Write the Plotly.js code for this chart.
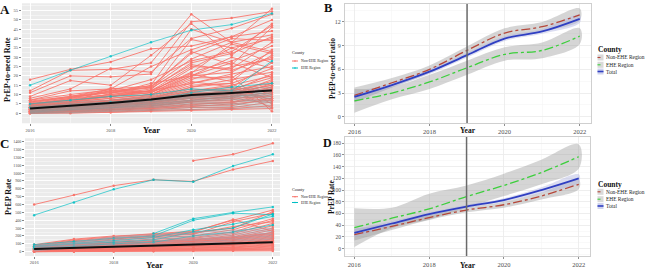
<!DOCTYPE html>
<html><head><meta charset="utf-8">
<script src="https://cdn.plot.ly/plotly-3.0.1.min.js"></script>
<style>html,body{margin:0;padding:0;background:#fff}#chart{width:647px;height:269px}</style>
</head><body><div id="chart"></div>
<script>
const years = [2016, 2017, 2018, 2019, 2020, 2021, 2022];
const legendLabels = ["Non-EHE Region", "EHE Region", "Total"];

// Panel A: county PrEP-to-need rates
const aNonEhe = [
  [18, 23.5, 27.5, 34.5, 36, 41, 44],
  [12, 23, 23.5, 27, 53, 38, 56],
  [11, 20, 19.5, 21, 49, 51, 54.5],
  [9, 17.5, 15, 31, 48, 31, 48],
  [8, 13, 24, 22, 40, 45.5, 53],
  [7, 12, 13, 25, 34, 41, 50],
  [6, 9, 12, 14, 33, 26, 46],
  [5.5, 8.5, 11, 14, 29, 38, 42],
  [5, 8, 10, 13, 27, 32, 41],
  [5, 7.5, 10, 12, 25, 24, 38],
  [4.5, 7, 9.5, 12, 22, 28, 36],
  [4.5, 7, 9, 11, 21, 17, 34],
  [4, 6.5, 9, 11, 20, 22, 33],
  [4, 6, 8, 10, 19, 19, 31],
  [3.5, 6, 8, 10, 18, 25, 29],
  [3.5, 5.5, 7, 9.5, 17, 14, 27],
  [3, 5.5, 7, 9, 16, 21, 25],
  [3, 5, 6.5, 8.5, 15, 16, 24],
  [3, 5, 6.5, 8, 14, 18, 22],
  [2.5, 4.5, 6, 8, 13, 12, 21],
  [2.5, 4.5, 6, 7.5, 12, 15, 20],
  [2.5, 4, 5.5, 7, 11.5, 13, 19],
  [2, 4, 5, 7, 11, 10, 18],
  [2, 3.5, 5, 6.5, 10, 12, 17],
  [2, 3.5, 4.5, 6, 9.5, 9, 16],
  [1.5, 3, 4.5, 5.5, 9, 11, 15],
  [1.5, 3, 4, 5, 8, 8, 14],
  [1.5, 2.5, 3.5, 4.5, 7, 9, 13],
  [1, 2, 3, 4, 6.5, 7, 12],
  [1, 2, 2.5, 3.5, 6, 6, 11],
  [0.5, 1.5, 2, 3, 5, 5.5, 10],
  [0.5, 1, 1.5, 2.5, 4, 4, 8],
  [0, 1, 1, 2, 3, 3, 6],
  [0, 0.5, 0.5, 1.5, 2, 2.5, 4],
  [0, 0, 0.5, 1, 1.5, 2, 2.5],
  [7, 10, 12.5, 10, 20, 30, 24],
  [6, 8.5, 11.5, 13.5, 26, 23, 30],
  [null, 9, 13, 14.5, 32, 40, 39],
  [null, null, 11, 12, 21.5, 37, 32],
  [4, 5.5, 13.5, 11, 24, 35, 27],
  [3, 6, 10.5, 16, 20, 27, 19],
  [2, 4, 7, 8, 14, 16, 5],
  [1, 3, 4, 6, 10, 12, 3],
  [5, 7, 9, 12, 16, 20, 1],
  [2, 3.5, 5, 8, 12, 14, 7],
  [6.5, 9, 11, 15, 45, 38, 33],
  [3, 6, 9, 12, 39.5, 35, 40],
  [4, 8, 12, 18, 28, 33, 47],
  [3, 4, 5, 6, 8, 10, 13],
  [2, 3, 4, 5, 7, 9, 11],
  [1, 2, 3, 4, 6, 8, 9],
  [4, 5, 6, 7, 9, 11, 15],
  [2.5, 3.5, 4.5, 5.5, 8.5, 10, 14],
  [1, 1.5, 2, 3, 4.5, 6, 8],
  [0.5, 1, 2, 2.5, 3.5, 5, 7],
  [3.5, 4.5, 6, 7, 10.5, 12, 16]
];
const aEhe = [
  [15, 23, 30.5, 38, 44.5, 47.5, 53.5],
  [5, 7, 9, 10, 13, 12, 28],
  [3, 4, 6, 7, 11, 14, 16]
];
const aGrey = [
  [5, 6, 7, 9, 12, 13, 14],
  [4, 5, 6, 8, 10, 12, 13],
  [3.5, 4.5, 5.5, 7, 9, 10, 12],
  [3, 4, 5, 6.5, 8.5, 9, 11],
  [2.5, 3.5, 4.5, 6, 8, 8.5, 10],
  [2, 3, 4, 5, 7, 8, 9],
  [1.5, 2.5, 3.5, 4.5, 6, 7, 8],
  [1, 2, 3, 4, 5.5, 6, 7],
  [0.5, 1.5, 2.5, 3.5, 5, 5, 6],
  [0.2, 1, 2, 3, 4, 4.5, 5],
  [0, 0.5, 1.5, 2, 3, 3.5, 4],
  [0, 0.2, 1, 1.5, 2, 2.5, 3],
  [1, 2.5, 4, 5.5, 8, 11, 12.5],
  [2, 3.5, 5, 7, 9.5, 10.5, 8],
  [0.5, 2, 3, 5, 7, 9, 11],
  [3, 5, 6, 8, 11, 12, 10],
  [1.5, 3, 4.5, 6, 9, 9.5, 9.5],
  [0.8, 1.8, 2.8, 4, 6.5, 7.5, 6]
];
const aMean = [2.5, 3.9, 5.5, 7.3, 9.8, 10.8, 12.2];

// Panel B: smoothed PrEP-to-need ratio
const bNonEheFit = [2.7, 4.3, 6.0, 8.4, 10.6, 11.4, 12.9];
const bNonEheLo  = [1.8, 3.7, 5.5, 7.9, 10.0, 10.8, 12.2];
const bNonEheHi  = [3.7, 4.9, 6.5, 8.9, 11.2, 12.0, 13.7];
const bEheFit = [2.0, 3.0, 4.4, 6.2, 7.9, 8.4, 10.2];
const bEheLo  = [0.5, 2.2, 3.5, 5.3, 7.1, 7.4, 9.2];
const bEheHi  = [3.5, 3.8, 5.3, 7.1, 8.8, 9.4, 11.2];
const bTotalFit = [2.5, 4.0, 5.7, 7.8, 9.9, 10.8, 12.4];
const bTotalLo  = [2.0, 3.7, 5.4, 7.5, 9.6, 10.5, 11.9];
const bTotalHi  = [3.0, 4.3, 6.0, 8.1, 10.2, 11.1, 12.9];

// Panel C: county PrEP rates
const cNonEhe = [
  [600, 720, 840, 915, 895, 1045, 1155],
  [null, null, null, null, 1158, 1239, 1379],
  [80, 150, 190, 230, 260, 400, 530],
  [70, 140, 180, 210, 240, 300, 510],
  [60, 120, 160, 200, 220, 380, 490],
  [50, 100, 150, 180, 200, 280, 420],
  [45, 90, 130, 160, 180, 250, 400],
  [40, 80, 120, 140, 170, 230, 360],
  [35, 70, 110, 130, 150, 210, 330],
  [30, 60, 100, 120, 140, 190, 300],
  [25, 55, 90, 100, 130, 170, 280],
  [20, 50, 80, 90, 120, 150, 250],
  [60, 90, 110, 130, 160, 190, 240],
  [55, 85, 100, 120, 150, 180, 230],
  [50, 80, 95, 110, 140, 170, 220],
  [45, 75, 90, 100, 130, 160, 210],
  [40, 70, 85, 95, 120, 150, 200],
  [35, 65, 80, 90, 110, 140, 190],
  [30, 60, 75, 85, 100, 130, 180],
  [28, 55, 70, 80, 95, 120, 170],
  [25, 50, 65, 75, 90, 110, 160],
  [22, 45, 60, 70, 85, 100, 150],
  [20, 40, 55, 65, 80, 95, 140],
  [18, 35, 50, 60, 75, 90, 130],
  [15, 30, 45, 55, 70, 85, 120],
  [12, 25, 40, 50, 65, 80, 110],
  [10, 20, 35, 45, 60, 70, 100],
  [8, 18, 30, 40, 50, 60, 90],
  [6, 15, 25, 35, 45, 55, 80],
  [5, 12, 20, 30, 40, 50, 70],
  [4, 10, 15, 25, 35, 40, 60],
  [3, 8, 12, 20, 30, 35, 50],
  [2, 6, 10, 15, 25, 30, 40],
  [1, 4, 8, 10, 20, 25, 30],
  [0, 2, 5, 8, 15, 18, 20],
  [0, 1, 3, 5, 10, 12, 10],
  [90, 160, 200, 220, 250, 410, 260],
  [70, 130, 170, 190, 230, 320, 380]
];
const cEhe = [
  [465, 625, 793, 915, 890, 1090, 1239],
  [null, null, null, 230, 420, 500, 570],
  [90, 130, 170, 200, 400, 490, 470],
  [70, 110, 140, 180, 280, 350, 450],
  [60, 100, 120, 150, 250, 300, 480],
  [40, 70, 100, 120, 200, 250, 340]
];
const cGrey = [
  [80, 120, 190, 215, 240, 270, 300],
  [70, 110, 170, 200, 220, 250, 280],
  [60, 100, 150, 180, 200, 230, 260],
  [50, 90, 130, 160, 180, 210, 240],
  [40, 80, 110, 140, 160, 190, 220],
  [30, 70, 95, 120, 140, 170, 200],
  [20, 60, 80, 100, 120, 150, 180],
  [10, 50, 65, 80, 100, 130, 160]
];
const cMean = [35, 48, 60, 72, 85, 100, 120];

// Panel D: smoothed PrEP rate
const dNonEheFit = [24, 38, 53, 66, 75, 90, 110];
const dNonEheLo  = [14, 32, 49, 62, 70, 84, 102];
const dNonEheHi  = [34, 44, 57, 70, 80, 96, 118];
const dEheFit = [36, 52, 68, 89, 108, 130, 157];
const dEheLo  = [3, 35, 50, 70, 90, 110, 137];
const dEheHi  = [69, 70, 94, 108, 128, 152, 178];
const dTotalFit = [27, 43, 59, 72, 83, 100, 120];
const dTotalLo  = [20, 39, 56, 69, 80, 95, 113];
const dTotalHi  = [34, 47, 62, 75, 86, 105, 127];

const W = 647, H = 269;
const px = v => v / W, py = v => 1 - v / H;
const SERIF = "Liberation Serif, Times New Roman, serif";
const RED = "#f8766d", TEAL = "#00bfc4";
const C_NON = "#b5473a", C_EHE = "#3ccf3c", C_TOT = "#2f3fc2";

const traces = [];
function spag(lines, color, xa, ya, width, markers) {
  lines.forEach(v => traces.push({
    x: years, y: v, xaxis: xa, yaxis: ya, type: "scatter",
    mode: markers ? "lines+markers" : "lines",
    line: {color: color, width: width}, marker: {color: color, size: 2.5},
    showlegend: false, hoverinfo: "skip"
  }));
}
spag(aNonEhe, RED, "x", "y", 0.9, true);
spag(aEhe, "rgba(0,191,196,0.8)", "x", "y", 0.8, true);
spag(aGrey, "rgba(150,150,150,0.5)", "x", "y", 1.1, false);
traces.push({x: years, y: aMean, xaxis: "x", yaxis: "y", mode: "lines", line: {color: "#111", width: 2}, showlegend: false});

spag(cNonEhe, RED, "x3", "y3", 0.9, true);
spag(cEhe, "rgba(0,191,196,0.85)", "x3", "y3", 0.8, true);
spag(cGrey, "rgba(160,160,175,0.6)", "x3", "y3", 1, false);
traces.push({x: years, y: cMean, xaxis: "x3", yaxis: "y3", mode: "lines", line: {color: "#111", width: 2}, showlegend: false});

function band(lo, hi, fill, xa, ya) {
  traces.push({
    x: years.concat(years.slice().reverse()),
    y: hi.concat(lo.slice().reverse()),
    xaxis: xa, yaxis: ya, type: "scatter", mode: "lines", fill: "toself",
    fillcolor: fill, line: {width: 0, shape: "spline"}, showlegend: false, hoverinfo: "skip"
  });
}
function fit(v, color, dash, width, xa, ya) {
  traces.push({x: years, y: v, xaxis: xa, yaxis: ya, type: "scatter", mode: "lines",
    line: {color: color, width: width, dash: dash, shape: "spline"}, showlegend: false});
}
const GREYBAND = "rgba(150,150,150,0.4)";
band(bEheLo, bEheHi, GREYBAND, "x2", "y2");
band(bNonEheLo, bNonEheHi, GREYBAND, "x2", "y2");
band(bTotalLo, bTotalHi, "rgba(175,180,225,0.45)", "x2", "y2");
fit(bEheFit, C_EHE, "dashdot", 1.3, "x2", "y2");
fit(bNonEheFit, C_NON, "dashdot", 1.3, "x2", "y2");
fit(bTotalFit, C_TOT, "solid", 1.8, "x2", "y2");

band(dEheLo, dEheHi, GREYBAND, "x4", "y4");
band(dNonEheLo, dNonEheHi, GREYBAND, "x4", "y4");
band(dTotalLo, dTotalHi, "rgba(175,180,225,0.45)", "x4", "y4");
fit(dEheFit, C_EHE, "dashdot", 1.3, "x4", "y4");
fit(dNonEheFit, C_NON, "dashdot", 1.3, "x4", "y4");
fit(dTotalFit, C_TOT, "solid", 1.8, "x4", "y4");

function greyAxis(domain, range, anchor, tickvals, fs, minorD) {
  return {
    domain: domain, range: range, anchor: anchor, tickmode: "array", tickvals: tickvals,
    ticks: "outside", ticklen: 2, tickcolor: "#333", tickwidth: 0.6,
    tickfont: {family: SERIF, size: fs, color: "#4d4d4d"},
    showgrid: true, gridcolor: "#ffffff", gridwidth: 0.9, zeroline: false, showline: false,
    minor: {tickmode: "linear", tick0: 0, dtick: minorD, showgrid: true, gridcolor: "#ffffff", gridwidth: 0.4, ticks: ""},
    fixedrange: true
  };
}
function bwAxis(domain, range, anchor, tickvals, fs, minorD, tick0) {
  return {
    domain: domain, range: range, anchor: anchor, tickmode: "array", tickvals: tickvals,
    ticks: "outside", ticklen: 2, tickcolor: "#444", tickwidth: 0.6,
    tickfont: {family: SERIF, size: fs, color: "#4d4d4d"},
    showgrid: true, gridcolor: "#ebebeb", gridwidth: 0.8, zeroline: false,
    showline: true, mirror: true, linecolor: "#cfcfcf", linewidth: 1,
    minor: {tickmode: "linear", tick0: tick0, dtick: minorD, showgrid: true, gridcolor: "#f4f4f4", gridwidth: 0.5, ticks: ""},
    fixedrange: true
  };
}
const yrTicks = [2016, 2018, 2020, 2022];
const layout = {
  width: W, height: H, margin: {l: 0, r: 0, t: 0, b: 0},
  paper_bgcolor: "#ffffff", plot_bgcolor: "rgba(0,0,0,0)", showlegend: false,
  xaxis: greyAxis([px(22), px(280)], [2015.8, 2022.2], "y", yrTicks, 4.5, 1),
  yaxis: greyAxis([py(123.3), py(3.3)], [-5.4, 58.9], "x", [0,5,10,15,20,25,30,35,40,45,50,55], 4.5, 2.5),
  xaxis2: bwAxis([px(345), px(591)], [2015.75, 2022.3], "y2", yrTicks, 6.5, 1, 2016),
  yaxis2: bwAxis([py(123), py(4)], [-0.8, 14.28], "x2", [0,3,6,9,12], 6, 1.5, 0),
  xaxis3: greyAxis([px(25), px(280)], [2015.77, 2022.18], "y3", yrTicks, 4.5, 1),
  yaxis3: greyAxis([py(256), py(138.3)], [-55, 1443], "x3", [0,100,200,300,400,500,600,700,800,900,1000,1100,1200,1300,1400], 4, 50),
  xaxis4: bwAxis([px(345), px(590)], [2015.75, 2022.3], "y4", yrTicks, 6.5, 1, 2016),
  yaxis4: bwAxis([py(256), py(137)], [-12.5, 190.7], "x4", [0,20,40,60,80,100,120,140,160,180], 5.5, 10, 0),
  shapes: [], annotations: []
};

const S = layout.shapes, A = layout.annotations;
S.push({type: "rect", xref: "x domain", yref: "y domain", x0: 0, x1: 1, y0: 0, y1: 1, fillcolor: "#ebebeb", line: {width: 0}, layer: "below"});
S.push({type: "rect", xref: "x3 domain", yref: "y3 domain", x0: 0, x1: 1, y0: 0, y1: 1, fillcolor: "#ebebeb", line: {width: 0}, layer: "below"});
S.push({type: "line", xref: "x2", yref: "y2 domain", x0: 2019, x1: 2019, y0: 0, y1: 1, line: {color: "#6a6a6a", width: 1.5}});
S.push({type: "line", xref: "x4", yref: "y4 domain", x0: 2019, x1: 2019, y0: 0, y1: 1, line: {color: "#6a6a6a", width: 1.5}});

function txt(t, x, y, size, opts) {
  A.push(Object.assign({text: t, xref: "paper", yref: "paper", x: px(x), y: py(y), showarrow: false,
    font: {family: SERIF, size: size, color: "#111"}, xanchor: "center", yanchor: "middle", borderpad: 0}, opts || {}));
}
// panel letters
txt("<b>A</b>", 4.5, 9, 13);
txt("<b>B</b>", 327.5, 8, 12.5);
txt("<b>C</b>", 4.5, 143.5, 13);
txt("<b>D</b>", 327, 142.5, 12);
// axis titles
txt("<b>Year</b>", 151, 130, 8.5);
txt("<b>Year</b>", 468, 130.5, 7.5);
txt("<b>Year</b>", 154, 265, 8.5);
txt("<b>Year</b>", 468, 265.5, 7.5);
txt("<b>PrEP-to-need Rate</b>", 8, 70, 8, {textangle: -90});
txt("<b>PrEP-to-need ratio</b>", 332, 69, 7.5, {textangle: -90});
txt("<b>PrEP Rate</b>", 8, 197, 8, {textangle: -90});
txt("<b>PrEP Rate</b>", 331, 197, 7.5, {textangle: -90});

// small legends (A, C)
function smallLegend(yTitle, yItems) {
  txt("County", 291, yTitle, 4.2, {xanchor: "left"});
  [RED, TEAL].forEach((c, i) => {
    const y = yItems[i];
    S.push({type: "line", xref: "paper", yref: "paper", x0: px(292), x1: px(298), y0: py(y), y1: py(y), line: {color: c, width: 1}});
    S.push({type: "circle", xref: "paper", yref: "paper", x0: px(294.2), x1: px(295.8), y0: py(y + 0.8), y1: py(y - 0.8), fillcolor: c, line: {width: 0}});
    txt(legendLabels[i], 300, y, 3.8, {xanchor: "left", font: {family: SERIF, size: 3.8, color: "#222"}});
  });
}
smallLegend(53, [61, 68]);
smallLegend(189, [196.7, 202.5]);

function bigLegend(yTitle, yItems) {
  txt("<b>County</b>", 597, yTitle, 7.5, {xanchor: "left"});
  const cols = [C_NON, C_EHE, C_TOT];
  yItems.forEach((y, i) => {
    S.push({type: "rect", xref: "paper", yref: "paper", x0: px(597.5), x1: px(603.5), y0: py(y + 3), y1: py(y - 3),
      fillcolor: i === 2 ? "rgba(175,180,225,0.6)" : "rgba(170,170,170,0.45)", line: {width: 0}});
    S.push({type: "line", xref: "paper", yref: "paper", x0: px(597.5), x1: px(603.5), y0: py(y), y1: py(y),
      line: {color: cols[i], width: i === 2 ? 1.6 : 1.1, dash: i === 2 ? "solid" : "dot"}});
    txt(legendLabels[i], 605, y, 5.4, {xanchor: "left", font: {family: SERIF, size: 5.4, color: "#222"}});
  });
}
bigLegend(50, [57.5, 64.8, 71.5]);
bigLegend(184.5, [191.8, 199.2, 206]);

Plotly.newPlot("chart", traces, layout, {displayModeBar: false, staticPlot: true});
</script></body></html>
